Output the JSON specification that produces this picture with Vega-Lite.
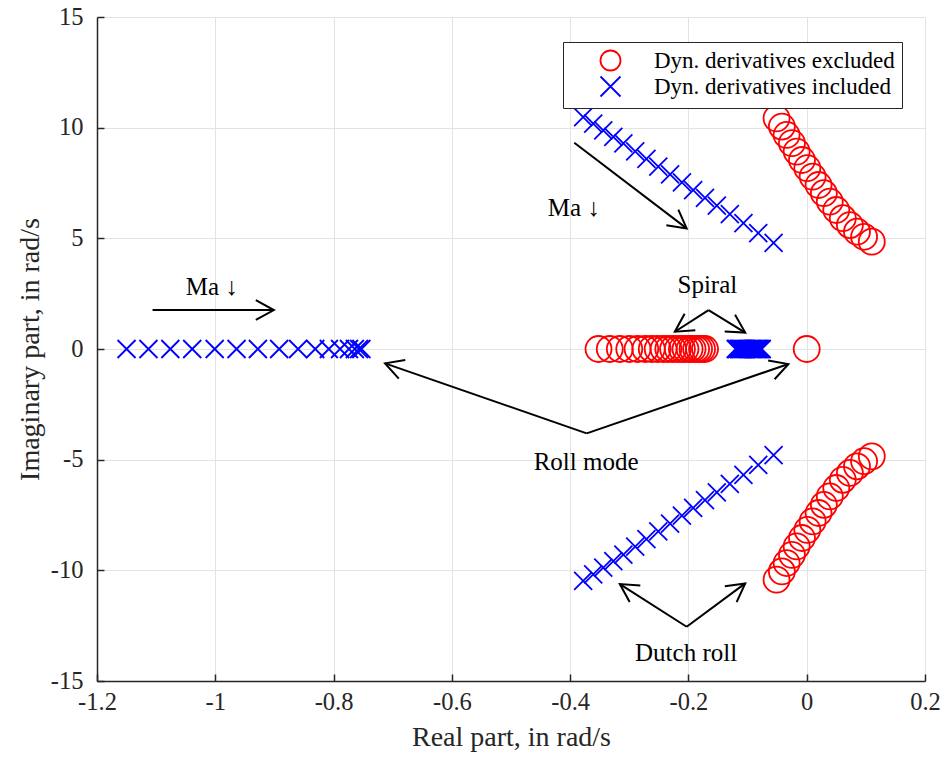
{
  "$schema": "https://vega.github.io/schema/vega-lite/v6.json",
  "width": 828,
  "height": 664,
  "autosize": "none",
  "padding": {"left": 97, "top": 17, "right": 20, "bottom": 78},
  "background": "white",
  "config": {
    "view": {"stroke": null},
    "font": "Liberation Serif",
    "axis": {
      "grid": true,
      "gridColor": "#e3e3e3",
      "gridWidth": 1,
      "domainColor": "#262626",
      "domainWidth": 1.5,
      "tickColor": "#262626",
      "tickWidth": 1.5,
      "tickSize": -7,
      "labelFont": "Liberation Serif",
      "labelFontSize": 24.5,
      "labelColor": "#262626",
      "labelFlush": false,
      "labelOverlap": false,
      "titleFont": "Liberation Serif",
      "titleFontSize": 28,
      "titleFontWeight": "normal",
      "titleColor": "#262626"
    }
  },
  "datasets": {
    "pts": [
      {"re": -0.051, "im": 10.42, "s": "Dyn. derivatives excluded"},
      {"re": -0.042, "im": 10.05, "s": "Dyn. derivatives excluded"},
      {"re": -0.034, "im": 9.67, "s": "Dyn. derivatives excluded"},
      {"re": -0.025, "im": 9.30, "s": "Dyn. derivatives excluded"},
      {"re": -0.017, "im": 8.92, "s": "Dyn. derivatives excluded"},
      {"re": -0.008, "im": 8.54, "s": "Dyn. derivatives excluded"},
      {"re": 0.001, "im": 8.17, "s": "Dyn. derivatives excluded"},
      {"re": 0.010, "im": 7.79, "s": "Dyn. derivatives excluded"},
      {"re": 0.020, "im": 7.41, "s": "Dyn. derivatives excluded"},
      {"re": 0.029, "im": 7.04, "s": "Dyn. derivatives excluded"},
      {"re": 0.039, "im": 6.66, "s": "Dyn. derivatives excluded"},
      {"re": 0.050, "im": 6.28, "s": "Dyn. derivatives excluded"},
      {"re": 0.061, "im": 5.91, "s": "Dyn. derivatives excluded"},
      {"re": 0.073, "im": 5.60, "s": "Dyn. derivatives excluded"},
      {"re": 0.085, "im": 5.30, "s": "Dyn. derivatives excluded"},
      {"re": 0.097, "im": 5.07, "s": "Dyn. derivatives excluded"},
      {"re": 0.110, "im": 4.85, "s": "Dyn. derivatives excluded"},
      {"re": -0.051, "im": -10.42, "s": "Dyn. derivatives excluded"},
      {"re": -0.042, "im": -10.05, "s": "Dyn. derivatives excluded"},
      {"re": -0.034, "im": -9.67, "s": "Dyn. derivatives excluded"},
      {"re": -0.025, "im": -9.30, "s": "Dyn. derivatives excluded"},
      {"re": -0.017, "im": -8.92, "s": "Dyn. derivatives excluded"},
      {"re": -0.008, "im": -8.54, "s": "Dyn. derivatives excluded"},
      {"re": 0.001, "im": -8.17, "s": "Dyn. derivatives excluded"},
      {"re": 0.010, "im": -7.79, "s": "Dyn. derivatives excluded"},
      {"re": 0.020, "im": -7.41, "s": "Dyn. derivatives excluded"},
      {"re": 0.029, "im": -7.04, "s": "Dyn. derivatives excluded"},
      {"re": 0.039, "im": -6.66, "s": "Dyn. derivatives excluded"},
      {"re": 0.050, "im": -6.28, "s": "Dyn. derivatives excluded"},
      {"re": 0.061, "im": -5.91, "s": "Dyn. derivatives excluded"},
      {"re": 0.073, "im": -5.60, "s": "Dyn. derivatives excluded"},
      {"re": 0.085, "im": -5.30, "s": "Dyn. derivatives excluded"},
      {"re": 0.097, "im": -5.07, "s": "Dyn. derivatives excluded"},
      {"re": 0.110, "im": -4.85, "s": "Dyn. derivatives excluded"},
      {"re": -0.352, "im": 0, "s": "Dyn. derivatives excluded"},
      {"re": -0.333, "im": 0, "s": "Dyn. derivatives excluded"},
      {"re": -0.316, "im": 0, "s": "Dyn. derivatives excluded"},
      {"re": -0.300, "im": 0, "s": "Dyn. derivatives excluded"},
      {"re": -0.286, "im": 0, "s": "Dyn. derivatives excluded"},
      {"re": -0.273, "im": 0, "s": "Dyn. derivatives excluded"},
      {"re": -0.262, "im": 0, "s": "Dyn. derivatives excluded"},
      {"re": -0.252, "im": 0, "s": "Dyn. derivatives excluded"},
      {"re": -0.242, "im": 0, "s": "Dyn. derivatives excluded"},
      {"re": -0.234, "im": 0, "s": "Dyn. derivatives excluded"},
      {"re": -0.226, "im": 0, "s": "Dyn. derivatives excluded"},
      {"re": -0.218, "im": 0, "s": "Dyn. derivatives excluded"},
      {"re": -0.211, "im": 0, "s": "Dyn. derivatives excluded"},
      {"re": -0.205, "im": 0, "s": "Dyn. derivatives excluded"},
      {"re": -0.198, "im": 0, "s": "Dyn. derivatives excluded"},
      {"re": -0.193, "im": 0, "s": "Dyn. derivatives excluded"},
      {"re": -0.187, "im": 0, "s": "Dyn. derivatives excluded"},
      {"re": -0.182, "im": 0, "s": "Dyn. derivatives excluded"},
      {"re": -0.177, "im": 0, "s": "Dyn. derivatives excluded"},
      {"re": -0.172, "im": 0, "s": "Dyn. derivatives excluded"},
      {"re": 0.0, "im": 0, "s": "Dyn. derivatives excluded"},
      {"re": -0.378, "im": 10.48, "s": "Dyn. derivatives included"},
      {"re": -0.361, "im": 10.18, "s": "Dyn. derivatives included"},
      {"re": -0.344, "im": 9.88, "s": "Dyn. derivatives included"},
      {"re": -0.327, "im": 9.58, "s": "Dyn. derivatives included"},
      {"re": -0.310, "im": 9.29, "s": "Dyn. derivatives included"},
      {"re": -0.290, "im": 8.93, "s": "Dyn. derivatives included"},
      {"re": -0.271, "im": 8.59, "s": "Dyn. derivatives included"},
      {"re": -0.251, "im": 8.24, "s": "Dyn. derivatives included"},
      {"re": -0.231, "im": 7.89, "s": "Dyn. derivatives included"},
      {"re": -0.211, "im": 7.53, "s": "Dyn. derivatives included"},
      {"re": -0.192, "im": 7.18, "s": "Dyn. derivatives included"},
      {"re": -0.172, "im": 6.83, "s": "Dyn. derivatives included"},
      {"re": -0.152, "im": 6.48, "s": "Dyn. derivatives included"},
      {"re": -0.130, "im": 6.09, "s": "Dyn. derivatives included"},
      {"re": -0.107, "im": 5.69, "s": "Dyn. derivatives included"},
      {"re": -0.082, "im": 5.24, "s": "Dyn. derivatives included"},
      {"re": -0.056, "im": 4.79, "s": "Dyn. derivatives included"},
      {"re": -0.378, "im": -10.48, "s": "Dyn. derivatives included"},
      {"re": -0.361, "im": -10.18, "s": "Dyn. derivatives included"},
      {"re": -0.344, "im": -9.88, "s": "Dyn. derivatives included"},
      {"re": -0.327, "im": -9.58, "s": "Dyn. derivatives included"},
      {"re": -0.310, "im": -9.29, "s": "Dyn. derivatives included"},
      {"re": -0.290, "im": -8.93, "s": "Dyn. derivatives included"},
      {"re": -0.271, "im": -8.59, "s": "Dyn. derivatives included"},
      {"re": -0.251, "im": -8.24, "s": "Dyn. derivatives included"},
      {"re": -0.231, "im": -7.89, "s": "Dyn. derivatives included"},
      {"re": -0.211, "im": -7.53, "s": "Dyn. derivatives included"},
      {"re": -0.192, "im": -7.18, "s": "Dyn. derivatives included"},
      {"re": -0.172, "im": -6.83, "s": "Dyn. derivatives included"},
      {"re": -0.152, "im": -6.48, "s": "Dyn. derivatives included"},
      {"re": -0.130, "im": -6.09, "s": "Dyn. derivatives included"},
      {"re": -0.107, "im": -5.69, "s": "Dyn. derivatives included"},
      {"re": -0.082, "im": -5.24, "s": "Dyn. derivatives included"},
      {"re": -0.056, "im": -4.79, "s": "Dyn. derivatives included"},
      {"re": -1.150, "im": 0, "s": "Dyn. derivatives included"},
      {"re": -1.113, "im": 0, "s": "Dyn. derivatives included"},
      {"re": -1.076, "im": 0, "s": "Dyn. derivatives included"},
      {"re": -1.039, "im": 0, "s": "Dyn. derivatives included"},
      {"re": -1.001, "im": 0, "s": "Dyn. derivatives included"},
      {"re": -0.964, "im": 0, "s": "Dyn. derivatives included"},
      {"re": -0.928, "im": 0, "s": "Dyn. derivatives included"},
      {"re": -0.892, "im": 0, "s": "Dyn. derivatives included"},
      {"re": -0.860, "im": 0, "s": "Dyn. derivatives included"},
      {"re": -0.831, "im": 0, "s": "Dyn. derivatives included"},
      {"re": -0.808, "im": 0, "s": "Dyn. derivatives included"},
      {"re": -0.789, "im": 0, "s": "Dyn. derivatives included"},
      {"re": -0.774, "im": 0, "s": "Dyn. derivatives included"},
      {"re": -0.764, "im": 0, "s": "Dyn. derivatives included"},
      {"re": -0.757, "im": 0, "s": "Dyn. derivatives included"},
      {"re": -0.753, "im": 0, "s": "Dyn. derivatives included"},
      {"re": -0.120, "im": 0, "s": "Dyn. derivatives included"},
      {"re": -0.118, "im": 0, "s": "Dyn. derivatives included"},
      {"re": -0.115, "im": 0, "s": "Dyn. derivatives included"},
      {"re": -0.113, "im": 0, "s": "Dyn. derivatives included"},
      {"re": -0.111, "im": 0, "s": "Dyn. derivatives included"},
      {"re": -0.109, "im": 0, "s": "Dyn. derivatives included"},
      {"re": -0.107, "im": 0, "s": "Dyn. derivatives included"},
      {"re": -0.104, "im": 0, "s": "Dyn. derivatives included"},
      {"re": -0.102, "im": 0, "s": "Dyn. derivatives included"},
      {"re": -0.100, "im": 0, "s": "Dyn. derivatives included"},
      {"re": -0.098, "im": 0, "s": "Dyn. derivatives included"},
      {"re": -0.096, "im": 0, "s": "Dyn. derivatives included"},
      {"re": -0.094, "im": 0, "s": "Dyn. derivatives included"},
      {"re": -0.092, "im": 0, "s": "Dyn. derivatives included"},
      {"re": -0.090, "im": 0, "s": "Dyn. derivatives included"},
      {"re": -0.088, "im": 0, "s": "Dyn. derivatives included"},
      {"re": -0.086, "im": 0, "s": "Dyn. derivatives included"},
      {"re": -0.084, "im": 0, "s": "Dyn. derivatives included"},
      {"re": -0.082, "im": 0, "s": "Dyn. derivatives included"},
      {"re": -0.080, "im": 0, "s": "Dyn. derivatives included"},
      {"re": -0.078, "im": 0, "s": "Dyn. derivatives included"},
      {"re": -0.076, "im": 0, "s": "Dyn. derivatives included"}
    ],
    "arrows": [
      {"x": -1.106, "y": 1.76, "x2": -0.901, "y2": 1.76},
      {"x": -0.393, "y": 9.32, "x2": -0.203, "y2": 5.45},
      {"x": -0.166, "y": 1.76, "x2": -0.223, "y2": 0.78},
      {"x": -0.166, "y": 1.76, "x2": -0.104, "y2": 0.74},
      {"x": -0.372, "y": -3.81, "x2": -0.713, "y2": -0.65},
      {"x": -0.372, "y": -3.81, "x2": -0.031, "y2": -0.68},
      {"x": -0.203, "y": -12.55, "x2": -0.316, "y2": -10.62},
      {"x": -0.203, "y": -12.55, "x2": -0.104, "y2": -10.59}
    ],
    "notes": [
      {"x": -1.006, "y": 2.82, "t": "Ma ↓"},
      {"x": -0.394, "y": 6.37, "t": "Ma ↓"},
      {"x": -0.168, "y": 2.89, "t": "Spiral"},
      {"x": -0.373, "y": -5.11, "t": "Roll mode"},
      {"x": -0.204, "y": -13.75, "t": "Dutch roll"}
    ]
  },
  "encoding": {
    "x": {
      "field": "re", "type": "quantitative",
      "scale": {"domain": [-1.2, 0.2], "nice": false, "zero": false},
      "axis": {
        "title": "Real part, in rad/s",
        "values": [-1.2, -1, -0.8, -0.6, -0.4, -0.2, 0, 0.2],
        "labelExpr": "datum.value < -1e-9 ? '-' + format(-datum.value, '~g') : format(abs(datum.value), '~g')",
        "labelPadding": 16,
        "titlePadding": 10
      }
    },
    "y": {
      "field": "im", "type": "quantitative",
      "scale": {"domain": [-15, 15], "nice": false, "zero": false},
      "axis": {
        "title": "Imaginary part, in rad/s",
        "values": [-15, -10, -5, 0, 5, 10, 15],
        "labelExpr": "datum.value < 0 ? '-' + format(-datum.value, '~g') : format(datum.value, '~g')",
        "labelPadding": 21,
        "titlePadding": 6
      }
    }
  },
  "layer": [
    {
      "data": {"name": "pts"},
      "transform": [{"filter": "datum.s === 'Dyn. derivatives excluded'"}],
      "mark": {"type": "point", "filled": false, "strokeWidth": 1.8, "opacity": 1, "size": 676},
      "encoding": {
        "color": {
          "field": "s", "type": "nominal",
          "scale": {"domain": ["Dyn. derivatives excluded", "Dyn. derivatives included"], "range": ["#ff0000", "#0000ff"]},
          "legend": {
            "title": null,
            "orient": "none",
            "legendX": 466,
            "legendY": 25,
            "direction": "vertical",
            "strokeColor": "#262626",
            "fillColor": "white",
            "padding": 7,
            "symbolOffset": 29,
            "labelOffset": 32,
            "labelLimit": 500,
            "labelFont": "Liberation Serif",
            "labelFontSize": 23,
            "labelColor": "#000000",
            "symbolSize": 400,
            "symbolStrokeWidth": 1.8,
            "symbolFillColor": "transparent",
            "rowPadding": -3
          }
        },
        "shape": {
          "field": "s", "type": "nominal",
          "scale": {"domain": ["Dyn. derivatives excluded", "Dyn. derivatives included"], "range": ["circle", "M-1,-1L1,1M-1,1L1,-1"]}
        }
      }
    },
    {
      "data": {"name": "pts"},
      "transform": [{"filter": "datum.s === 'Dyn. derivatives included'"}],
      "mark": {"type": "point", "filled": false, "strokeWidth": 1.8, "opacity": 1, "size": 324},
      "encoding": {
        "color": {"field": "s", "type": "nominal"},
        "shape": {"field": "s", "type": "nominal"}
      }
    },
    {
      "data": {"name": "arrows"},
      "mark": {"type": "rule", "color": "black", "strokeWidth": 2},
      "encoding": {
        "x": {"field": "x", "type": "quantitative"},
        "y": {"field": "y", "type": "quantitative"},
        "x2": {"field": "x2"},
        "y2": {"field": "y2"}
      }
    },
    {
      "data": {"name": "arrows"},
      "mark": {
        "type": "point",
        "filled": false,
        "stroke": "black",
        "strokeWidth": 2,
        "opacity": 1,
        "shape": "M-1,-0.55L0,0L-1,0.55",
        "size": 1296,
        "angle": {"expr": "atan2(scale('y', datum.y2) - scale('y', datum.y), scale('x', datum.x2) - scale('x', datum.x)) * 180 / PI"}
      },
      "encoding": {
        "x": {"field": "x2", "type": "quantitative"},
        "y": {"field": "y2", "type": "quantitative"}
      }
    },
    {
      "data": {"name": "notes"},
      "mark": {"type": "text", "font": "Liberation Serif", "fontSize": 25, "color": "black", "align": "center", "baseline": "middle"},
      "encoding": {
        "x": {"field": "x", "type": "quantitative"},
        "y": {"field": "y", "type": "quantitative"},
        "text": {"field": "t"}
      }
    }
  ]
}
